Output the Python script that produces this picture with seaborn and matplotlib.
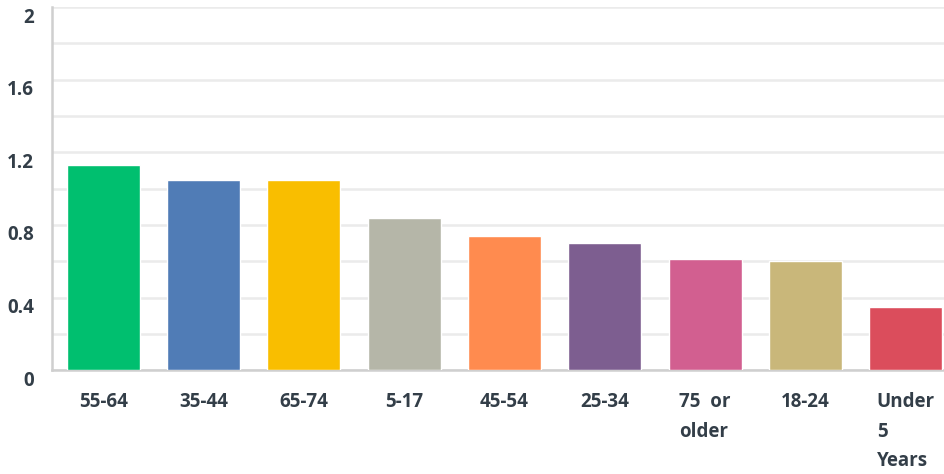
import matplotlib
matplotlib.use("Agg")
import matplotlib.pyplot as plt
import matplotlib.transforms as mtrans
import seaborn as sns
import pandas as pd

categories = ["55-64", "35-44", "65-74", "5-17", "45-54", "25-34", "75  or\nolder", "18-24", "Under\n5\nYears"]
values = [1.13, 1.05, 1.05, 0.84, 0.74, 0.70, 0.61, 0.60, 0.35]
colors = ["#00BF6F", "#507CB6", "#F9BE00", "#B5B6A8", "#FF8B4F",
          "#7D5E90", "#D25F90", "#C9B77A", "#DB4D5C"]
y_ticks = [0, 0.4, 0.8, 1.2, 1.6, 2]
y_tick_labels = ["0", "0.4", "0.8", "1.2", "1.6", "2"]

df = pd.DataFrame({"group": categories, "value": values})

sns.set_style("white")
plt.rcParams["font.family"] = ["Open Sans", "DejaVu Sans"]

fig = plt.figure(figsize=(9.45, 4.74), dpi=100)
ax = fig.add_axes([0.055, 0.219, 0.945, 0.766])

sns.barplot(data=df, x="group", y="value", hue="group", palette=colors,
            width=0.73, legend=False, saturation=1, ax=ax, zorder=3)

ax.set_ylim(0, 2)
ax.set_xlim(-0.51, 8.39)
ax.set_axisbelow(True)
ax.set_yticks(y_ticks)
ax.set_yticks([0.2, 0.6, 1.0, 1.4, 1.8], minor=True)
ax.grid(axis="y", which="both", color="#ebebeb", linewidth=1.8, zorder=0)
ax.set_yticklabels(y_tick_labels)

for s in ["top", "right"]:
    ax.spines[s].set_visible(False)
for s in ["left", "bottom"]:
    ax.spines[s].set_color("#cfcfcf")
    ax.spines[s].set_linewidth(1.8)

ax.tick_params(axis="y", which="both", length=0, pad=13, labelsize=13.5, labelcolor="#333e48")
ax.tick_params(axis="x", length=0, pad=16, labelsize=13.5, labelcolor="#333e48")
shift = mtrans.ScaledTranslation(0, -8 / 100, fig.dpi_scale_trans)
for lbl in ax.get_yticklabels():
    lbl.set_fontweight("bold")
    lbl.set_transform(lbl.get_transform() + shift)
for lbl in ax.get_xticklabels():
    lbl.set_fontweight("bold")
    lbl.set_multialignment("left")
    lbl.set_linespacing(1.62)

ax.set_xlabel("")
ax.set_ylabel("")

fig.savefig("out.png", dpi=100)
